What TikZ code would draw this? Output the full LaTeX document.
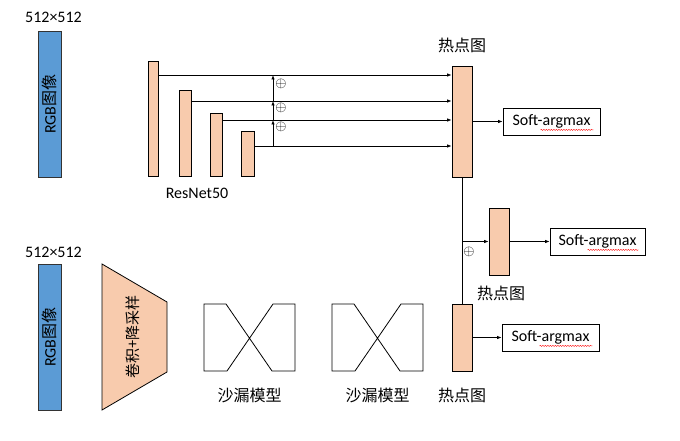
\documentclass[tikz,border=0pt]{standalone}
\usepackage{fontspec}
\setmainfont{Carlito}
\newfontfamily\cjk{Noto Sans CJK SC}
\usetikzlibrary{arrows.meta,decorations.pathmorphing}
\definecolor{imgblue}{HTML}{5B9BD5}
\definecolor{featfill}{HTML}{F8CBAD}
\tikzstyle{bar}=[draw=black,fill=featfill,inner sep=0pt]
\tikzstyle{img}=[draw=black!80,fill=imgblue,rotate=90,inner sep=0pt,minimum width=146pt,minimum height=23pt]
\tikzstyle{sbox}=[draw=black,fill=white,minimum width=97pt,minimum height=27pt,inner sep=0pt]
\tikzstyle{lab}=[inner sep=0pt]
\tikzstyle{plus}=[inner sep=0pt,font=\fontsize{15}{15}\selectfont]
\tikzstyle{arr}=[-{Latex[length=4.5pt,width=3.5pt]}]
\tikzstyle{squiggle}=[red,line width=0.4pt,decorate,decoration={snake,amplitude=0.6pt,segment length=2.5pt}]

\begin{document}
\begin{tikzpicture}[x=1pt,y=-1pt,font=\fontsize{16}{19}\selectfont,line width=0.8pt]
	\useasboundingbox (0,0) rectangle (680,441);
	% top branch: ResNet50
	\node[img] (rgb1) at (49.5,104) {RGB{\cjk 图像}};
	\node[lab] (size1) at (53.5,17) {512×512};
	\node[bar,minimum width=20pt,minimum height=111pt] (hm1) at (462,121.5) {};
	\node[lab] (hml1) at (462,45) {\cjk 热点图};
	\foreach \i/\x/\w/\h/\l in {1/153/10/115/75,2/185/12/86/101,3/216/12/63/120,4/247.5/13/45/146} {
		\node[bar,anchor=south,minimum width=\w pt,minimum height=\h pt] (res\i) at (\x,177) {};
		\coordinate (s\i) at (273,\l);
		\draw[arr] (res\i.east |- s\i) -- (hm1.west |- s\i);
	}
	\draw[arr] (s4) -- (s3);
	\draw[arr] (s3) -- (s2);
	\draw[arr] (s2) -- (s1);
	\node[plus] (p1) at (281,84) {$\oplus$};
	\node[plus] (p2) at (281,108) {$\oplus$};
	\node[plus] (p3) at (281,127) {$\oplus$};
	\node[lab] (resl) at (197,193) {ResNet50};
	\node[sbox] (sa1) at (551.5,121.5) {Soft-argmax};
	\draw[arr] (hm1.east) -- (sa1.west);

	% bottom branch: hourglass
	\node[img] (rgb2) at (49.5,337) {RGB{\cjk 图像}};
	\node[lab] (size2) at (53.5,252) {512×512};
	\draw[fill=featfill] (102,264) -- (167,302) -- (167,372) -- (102,410) -- cycle;
	\node[lab,rotate=90,font=\fontsize{15}{15}\selectfont] (conv) at (133,337) {\cjk 卷积+降采样};
	\foreach \x/\n in {204/1,332/2} {
		\draw (\x,304) -- ++(22,0) -- ++(46,67) -- ++(23,0) -- ++(0,-67) -- ++(-22,0) -- ++(-46,67) -- ++(-23,0) -- cycle;
		\node[lab] (hgl\n) at (\x+45.5,395) {\cjk 沙漏模型};
	}
	\node[bar,minimum width=20pt,minimum height=67pt] (hm3) at (462,337.5) {};
	\node[lab] (hml3) at (462,395) {\cjk 热点图};
	\node[sbox] (sa3) at (550.5,337.5) {Soft-argmax};
	\draw[arr] (hm3.east) -- (sa3.west);

	% fused heatmap
	\node[bar,minimum width=20pt,minimum height=67pt] (hm2) at (499,241.5) {};
	\node[lab] (hml2) at (501,293) {\cjk 热点图};
	\node[sbox,minimum width=95pt] (sa2) at (597.5,241.5) {Soft-argmax};
	\draw (hm1.south) -- (hm3.north);
	\draw[arr] (hm1.south |- hm2.west) -- (hm2.west);
	\node[plus] (p4) at (469,252) {$\oplus$};
	\draw[arr] (hm2.east) -- (sa2.west);

	% spell-check marks
	\foreach \s in {sa1,sa2,sa3}
		\draw[squiggle] ([xshift=38pt,yshift=5.5pt]\s.south west) -- ([xshift=-7pt,yshift=5.5pt]\s.south east);
\end{tikzpicture}
\end{document}
